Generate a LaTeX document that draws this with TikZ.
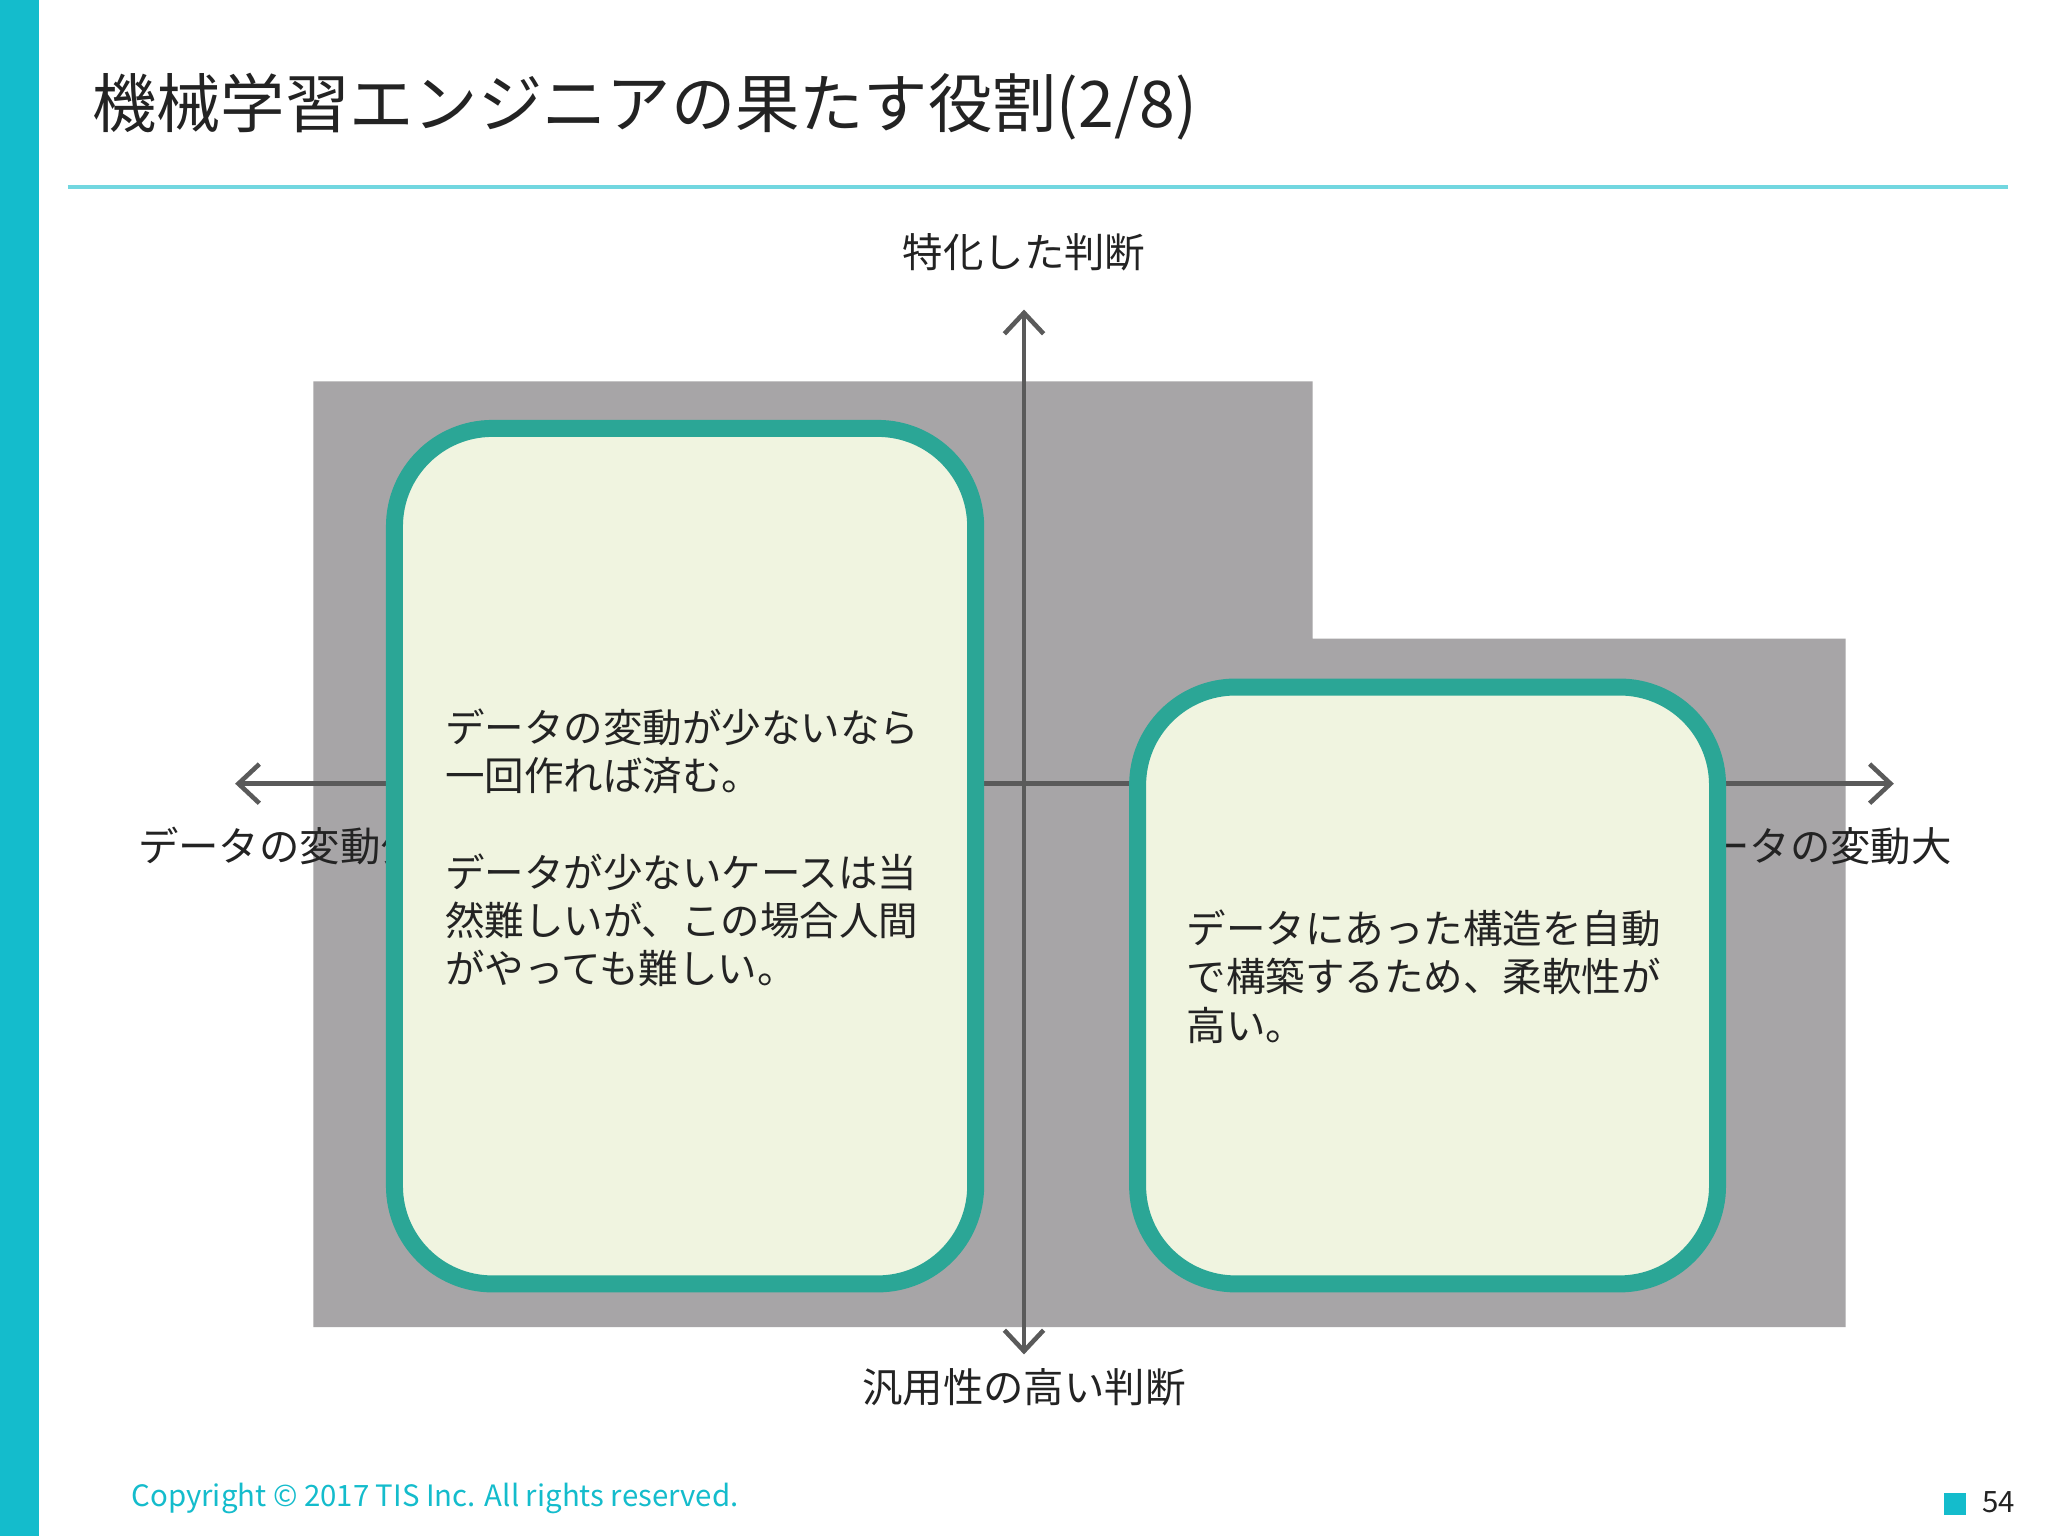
\documentclass[tikz,border=0pt]{standalone}
\usepackage{fontspec}
\setmainfont{Noto Sans CJK JP}
\usetikzlibrary{arrows.meta}
\definecolor{cyanbar}{RGB}{20,188,204}
\definecolor{grayarea}{RGB}{167,165,167}
\definecolor{axisgray}{RGB}{90,90,90}
\definecolor{boxfill}{RGB}{240,244,224}
\definecolor{boxline}{RGB}{43,166,150}
\definecolor{txt}{RGB}{35,35,35}
\tikzset{
 axis/.style={draw=axisgray,line width=1.2mm,-{Stealth[length=2.2mm,width=2.8mm,open]}},
 panel/.style={draw=boxline,line width=1.3mm,fill=boxfill,rounded corners=0.75cm},
 lbl/.style={font=\fontsize{8.8pt}{10pt}\selectfont,text=txt,inner sep=0},
 body/.style={font=\fontsize{8.6pt}{10.5pt}\selectfont,text=txt,align=left,anchor=north west,inner sep=0}
}
\begin{document}
\begin{tikzpicture}[x=0.01cm,y=-0.01cm]
\useasboundingbox (0,0) rectangle (1568,1176);
\fill[white] (0,0) rectangle (1568,1176);
\fill[cyanbar] (0,0) rectangle (30,1176);
\node[anchor=west,inner sep=0,font=\fontsize{14pt}{16pt}\selectfont,text=txt] (title) at (70,82) {機械学習エンジニアの果たす役割(2/8)};
\draw[cyanbar!60,line width=0.3mm] (52,143) -- (1537,143);
\fill[grayarea] (240,292) -- (1005,292) -- (1005,489) -- (1413,489) -- (1413,1016) -- (240,1016) -- cycle;
\coordinate (c) at (784,600);
\coordinate (top) at (784,237);
\coordinate (bot) at (784,1037);
\coordinate (lft) at (180,600);
\coordinate (rgt) at (1450,600);
\draw[axisgray,line width=0.35mm,-{Straight Barb[length=1.6mm,width=3mm]}] (c) -- (top);
\draw[axisgray,line width=0.35mm,-{Straight Barb[length=1.6mm,width=3mm]}] (c) -- (bot);
\draw[axisgray,line width=0.35mm,-{Straight Barb[length=1.6mm,width=3mm]}] (c) -- (lft);
\draw[axisgray,line width=0.35mm,-{Straight Barb[length=1.6mm,width=3mm]}] (c) -- (rgt);
\node[lbl] (ltop) at (784,193) {特化した判断};
\node[lbl] (lbot) at (784,1062) {汎用性の高い判断};
\node[lbl,anchor=west] (lleft) at (105,648) {データの変動少};
\node[lbl,anchor=east] (lright) at (1495,648) {データの変動大};
\draw[panel] (302,328) rectangle (747,983);
\draw[panel] (871,526) rectangle (1315,983);
\node[body] (t1) at (340,542) {データの変動が少ないなら\\一回作れば済む。\\[10.5pt]データが少ないケースは当\\然難しいが、この場合人間\\がやっても難しい。};
\node[body] (t2) at (908,696) {データにあった構造を自動\\で構築するため、柔軟性が\\高い。};
\node[anchor=west,inner sep=0,font=\fontsize{6.4pt}{7pt}\selectfont,text=cyanbar] (copy) at (100,1147) {Copyright © 2017 TIS Inc. All rights reserved.};
\fill[cyanbar] (1488,1143) rectangle (1505,1160);
\node[anchor=west,inner sep=0,font=\fontsize{6.4pt}{7pt}\selectfont,text=txt] (pg) at (1517,1150) {54};
\end{tikzpicture}
\end{document}
